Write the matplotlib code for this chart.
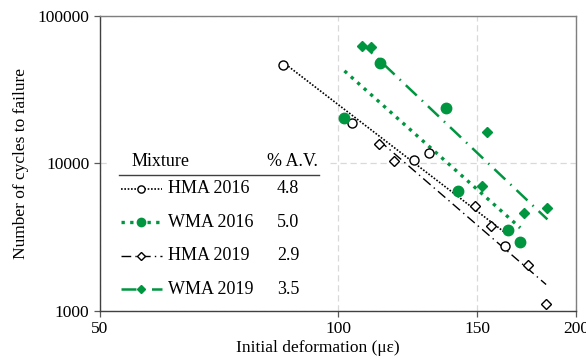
# -*- coding: utf-8 -*-

import numpy as np
import matplotlib as mpl
mpl.use('Agg')  # silent mode
import matplotlib.pyplot as plt
from matplotlib.ticker import FixedLocator, FixedFormatter, NullLocator
from matplotlib.patches import Rectangle
from matplotlib.lines import Line2D

#------------------ FONT_setup ----------------------
plt.rcParams['font.family'] = ['Liberation Serif', 'DejaVu Serif']
plt.rcParams['font.size'] = 12.5

#------------------ Data ----------------------
hma16_x = [85.2, 104.1, 124.9, 130.4, 162.6]
hma16_y = [46500, 18700, 10500, 11700, 2760]
wma16_x = [101.9, 113.0, 136.8, 142.0, 164.2, 170.0]
wma16_y = [20400, 47700, 23900, 6500, 3500, 2900]
hma19_x = [112.7, 117.7, 148.9, 156.0, 173.9, 183.3]
hma19_y = [13500, 10300, 5100, 3750, 2040, 1110]
wma19_x = [107.1, 110.0, 152.0, 154.2, 172.0, 184.0]
wma19_y = [62600, 61900, 7000, 16400, 4600, 5000]

names = ['HMA 2016', 'WMA 2016', 'HMA 2019', 'WMA 2019']
air_voids = ['4.8', '5.0', '2.9', '3.5']

green = '#009640'

# style of each series: (color, linestyle, linewidth, marker, markersize, facecolor)
styles = [
    ('black', (0, (1, 1)), 1.2, 'o', 6.5, 'white'),
    (green, (0, (1, 1.6)), 2.4, 'o', 7.5, green),
    ('black', (0, (7, 3, 1, 3)), 1.0, 'D', 4.8, 'white'),
    (green, (0, (6, 2.8, 0.6, 2.8)), 1.8, 'D', 5.5, green),
]
series = [(hma16_x, hma16_y), (wma16_x, wma16_y),
          (hma19_x, hma19_y), (wma19_x, wma19_y)]

#------------------ Figure Setup ----------------------
fig = plt.figure(figsize=(5.86, 3.62), dpi=100)
ax = fig.add_axes([0.1706, 0.142, 0.8124, 0.8138])
ax.set_xscale('log')
ax.set_yscale('log')
ax.set_xlim(50, 200)
ax.set_ylim(1000, 100000)

for (x, y), (c, ls, lw, mk, ms, fc) in zip(series, styles):
    x = np.array(x)
    y = np.array(y)
    # power trend line (straight in log-log)
    b, a = np.polyfit(np.log(x), np.log(y), 1)
    xf = np.array([x.min(), x.max()])
    ax.plot(xf, np.exp(a) * xf ** b, color=c, ls=ls, lw=lw, zorder=3)
    ax.plot(x, y, ls='none', marker=mk, ms=ms, mfc=fc, mec=c, mew=1.0, zorder=4)

#Grid
ax.grid(True, which='major', color='#d9d9d9', ls=(0, (5, 3)), lw=0.9)
ax.set_axisbelow(True)

#Ticket setup
ax.xaxis.set_major_locator(FixedLocator([50, 100, 150, 200]))
ax.xaxis.set_major_formatter(FixedFormatter(['50', '100', '150', '200']))
ax.xaxis.set_minor_locator(NullLocator())
ax.yaxis.set_major_locator(FixedLocator([1000, 10000, 100000]))
ax.yaxis.set_major_formatter(FixedFormatter(['1000', '10000', '100000']))
ax.yaxis.set_minor_locator(NullLocator())
ax.tick_params(direction='out', length=4, width=0.9, color='#595959', labelsize=12.5)
for s in ax.spines.values():
    s.set_color('#7f7f7f')
    s.set_linewidth(1.0)
ax.spines['left'].set_color('#404040')
ax.spines['bottom'].set_color('#404040')

#Label setup
ax.set_xlabel('Initial deformation (με)', fontsize=12.5)
ax.xaxis.set_label_coords(0.458, -0.1)
ax.set_ylabel('Number of cycles to failure', fontsize=12.5, labelpad=6)

#------------------ Table legend ----------------------
def ax_x(px):
    return (px - 100) / 476.0

def ax_y(py):
    return (310.5 - py) / 294.5

fs = 13
ax.add_patch(Rectangle((ax_x(108), 0.01), ax_x(328) - ax_x(108), ax_y(148) - 0.01,
                       transform=ax.transAxes, facecolor='white', edgecolor='none', zorder=2))
ax.text(ax_x(132), ax_y(161), 'Mixture', transform=ax.transAxes, va='center', ha='left',
        fontsize=fs, zorder=5)
ax.text(ax_x(267), ax_y(161), '% A.V.', transform=ax.transAxes, va='center', ha='left',
        fontsize=fs, zorder=5)
ax.add_line(Line2D([ax_x(119), ax_x(319)], [ax_y(175), ax_y(175)], transform=ax.transAxes,
                   color='#404040', lw=1.0, zorder=5))

rows_py = [188.5, 222, 255.5, 289]
for name, av, py, (c, ls, lw, mk, ms, fc) in zip(names, air_voids, rows_py, styles):
    yy = ax_y(py)
    ax.add_line(Line2D([ax_x(121), ax_x(162)], [yy, yy], transform=ax.transAxes,
                       color=c, ls=ls, lw=lw, zorder=5))
    ax.add_line(Line2D([ax_x(141.5)], [yy], transform=ax.transAxes, ls='none', marker=mk,
                       ms=ms * 0.8, mfc=fc, mec=c, mew=1.0, zorder=6))
    ax.text(ax_x(168), yy, name, transform=ax.transAxes, va='center', ha='left',
            fontsize=fs, zorder=5)
    ax.text(ax_x(288), yy, av, transform=ax.transAxes, va='center', ha='center',
            fontsize=fs, zorder=5)

fig.savefig('out.png', dpi=100)
